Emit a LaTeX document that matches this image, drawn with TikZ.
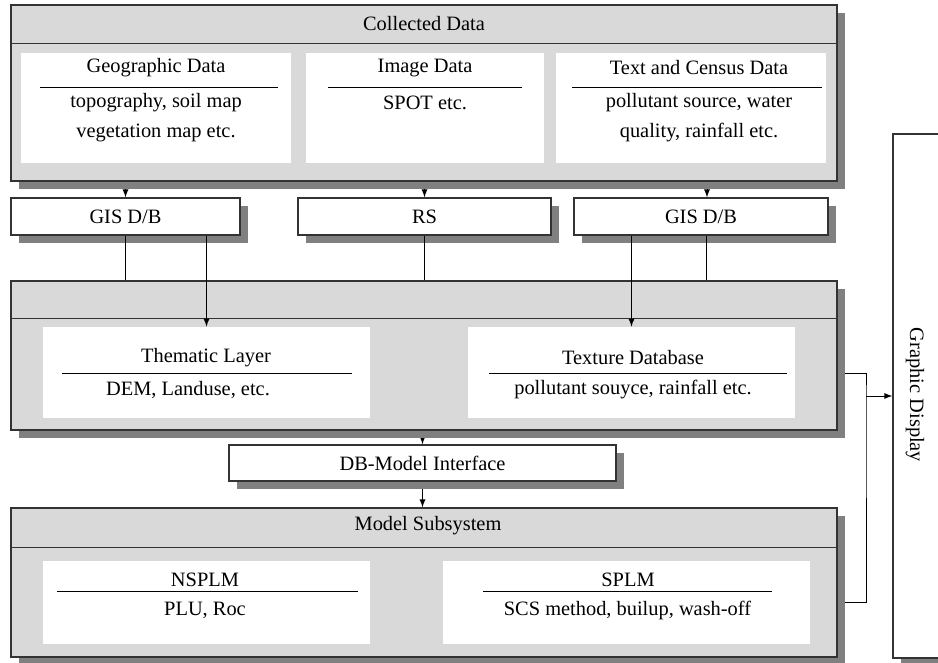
\documentclass[tikz,border=0pt]{standalone}
\usepackage{fontspec}
\IfFontExistsTF{LiberationSerif-Regular.ttf}
 {\setmainfont{LiberationSerif}[Extension=.ttf, UprightFont=*-Regular, BoldFont=*-Bold, ItalicFont=*-Italic, BoldItalicFont=*-BoldItalic]}
 {\setmainfont{DejaVu Serif}}
\usepackage{tikz}
\usetikzlibrary{calc}
\usetikzlibrary{arrows}
\usetikzlibrary{shadows}
\usetikzlibrary{backgrounds}
\usetikzlibrary{positioning}

\tikzset{
 panel/.style={rectangle, draw=black!80, line width=.7pt, fill=black!15, inner sep=0pt,
   drop shadow={shadow xshift=4pt, shadow yshift=-4pt, opacity=1, fill=black!50}},
 unit/.style={panel, fill=white, font=\rmfamily\fontsize{10.2}{15}\selectfont},
 card/.style={rectangle, fill=white, inner sep=0pt},
 lbl/.style={inner sep=0pt, align=center, font=\rmfamily\fontsize{10.2}{15}\selectfont}
}

\begin{document}
\begin{tikzpicture}[x=.5pt, y=-.5pt]
 \useasboundingbox (0,0) rectangle (938,663);

 % collected data
 \node [panel, minimum width=413pt, minimum height=88pt] (col) at (424,93) {};
 \draw [draw=black!80] (col.west |- 0,43) -- (col.east |- 0,43);
 \node [lbl] (colT) at (424,24) {Collected Data};
 \node [card, minimum width=135pt, minimum height=55pt] (geo) at (156,108) {};
 \node [lbl] (geoT) at (156,68) {Geographic Data};
 \draw (40,87) -- (278,87);
 \node [lbl] (geoB) at (156,118) {topography, soil map\\vegetation map etc.};
 \node [card, minimum width=119pt, minimum height=55pt] (img) at (425,108) {};
 \node [lbl] (imgT) at (425,68) {Image Data};
 \draw (328,87) -- (522,87);
 \node [lbl] (imgB) at (425,103) {SPOT etc.};
 \node [card, minimum width=135pt, minimum height=55pt] (txt) at (691,108) {};
 \node [lbl] (txtT) at (699,68) {Text and Census Data};
 \draw (572,87) -- (822,87);
 \node [lbl] (txtB) at (699,118) {pollutant source, water\\quality, rainfall etc.};

 % databases
 \node [unit, minimum width=114.5pt, minimum height=18.5pt] (gisL) at (125.5,216.5) {GIS D/B};
 \node [unit, minimum width=126.5pt, minimum height=18.5pt] (rs) at (424.5,216.5) {RS};
 \node [unit, minimum width=127pt, minimum height=18.5pt] (gisR) at (701,216.5) {GIS D/B};

 % database subsystem
 \node [panel, minimum width=413pt, minimum height=74.5pt] (mid) at (424,355.5) {};
 \draw [draw=black!80] (mid.west |- 0,318) -- (mid.east |- 0,318);
 \node [card, minimum width=163.5pt, minimum height=45.5pt] (them) at (206.5,372.5) {};
 \node [lbl] (themT) at (206,358) {Thematic Layer};
 \draw (62,373) -- (352,373);
 \node [lbl] (themB) at (188,390) {DEM, Landuse, etc.};
 \node [card, minimum width=163.5pt, minimum height=45.5pt] (tex) at (631.5,372.5) {};
 \node [lbl] (texT) at (633,358) {Texture Database};
 \draw (489,373) -- (787,373);
 \node [lbl] (texB) at (633,390) {pollutant souyce, rainfall etc.};

 \node [unit, minimum width=193.5pt, minimum height=18pt] (dbi) at (422.5,463) {DB-Model Interface};

 % model subsystem
 \node [panel, minimum width=413pt, minimum height=74.5pt] (model) at (424,582.5) {};
 \draw [draw=black!80] (model.west |- 0,547) -- (model.east |- 0,547);
 \node [lbl] (modelT) at (428,526) {Model Subsystem};
 \node [card, minimum width=163.5pt, minimum height=41.5pt] (nsplm) at (206.5,602.5) {};
 \node [lbl] (nsplmT) at (205,580) {NSPLM};
 \draw (57,591) -- (358,591);
 \node [lbl] (nsplmB) at (205,610) {PLU, Roc};
 \node [card, minimum width=183.5pt, minimum height=41.5pt] (splm) at (626.5,602.5) {};
 \node [lbl] (splmT) at (628,580) {SPLM};
 \draw (483,591) -- (772,591);
 \node [lbl] (splmB) at (627.5,610) {SCS method, builup, wash-off};

 % display
 \node [unit, minimum width=50pt, minimum height=262pt] (gd) at (943,396) {};
 \node [lbl, rotate=-90] (gdT) at (915,395) {Graphic Display};
 \coordinate (j) at (866,396);

 \draw [-latex] (gisL.south -| them) -- (them);
 \draw [-latex] (gisR.south -| tex) -- (tex);
 \draw (gisL) -- (gisL |- mid.north);
 \draw (rs) -- (rs |- mid.north);
 \draw (gisR.south -| 706,0) -- (mid.north -| 706,0);
 \draw [-latex] (j) -- (gd.west |- j);

 \begin{scope}[on background layer]
 \draw [-latex] (col.south -| gisL) -- (gisL);
 \draw [-latex] (col.south -| rs) -- (rs);
 \draw [-latex] (col.south -| 707,0) -- (gisR.north -| 707,0);
 \draw [-latex] (mid.south -| dbi) -- (dbi);
 \draw [-latex] (dbi) -- (dbi |- model.north);
 \draw (mid.east |- 0,373) -| (j) |- (model.east |- 0,602);
 \end{scope}
\end{tikzpicture}
\end{document}
